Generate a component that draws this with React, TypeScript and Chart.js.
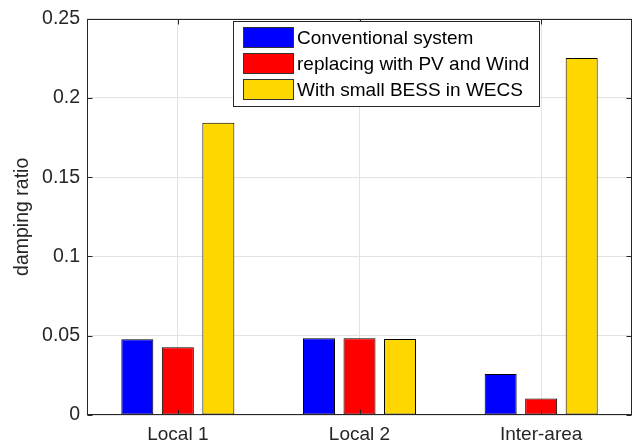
import React, { useEffect, useRef } from "react";
import { Chart, registerables } from "chart.js";

Chart.register(...registerables);

const categories = ["Local 1", "Local 2", "Inter-area"];
const seriesNames = ["Conventional system", "replacing with PV and Wind", "With small BESS in WECS"];
const conventional = [0.0478, 0.0484, 0.0259];
const pvWind = [0.0428, 0.0484, 0.0104];
const smallBess = [0.1844, 0.048, 0.2252];
const yTickLabels = ["0", "0.05", "0.1", "0.15", "0.2", "0.25"];
const seriesColors = ["#0000FF", "#FF0000", "#FFD700"];

const FONT = "'Liberation Sans', Arial, Helvetica, sans-serif";
const TEXT = "#262626";

const framePlugin = {
  id: "frame",
  afterDatasetsDraw(chart: any) {
    const { ctx, chartArea } = chart;
    const l = Math.round(chartArea.left) + 0.5;
    const r = Math.round(chartArea.right) - 0.5;
    const t = Math.round(chartArea.top) + 0.5;
    const b = Math.round(chartArea.bottom) - 0.5;
    ctx.save();
    ctx.strokeStyle = TEXT;
    ctx.lineWidth = 1;
    ctx.strokeRect(l, t, r - l, b - t);
    const tl = 5;
    const ys = chart.scales.y;
    ctx.beginPath();
    ys.ticks.forEach((tk: any) => {
      const y = Math.round(ys.getPixelForValue(tk.value)) + 0.5;
      ctx.moveTo(l, y);
      ctx.lineTo(l + tl, y);
      ctx.moveTo(r, y);
      ctx.lineTo(r - tl, y);
    });
    const xs = chart.scales.x;
    categories.forEach((_, i) => {
      const x = Math.round(xs.getPixelForValue(i)) + 0.5;
      ctx.moveTo(x, b);
      ctx.lineTo(x, b - tl);
      ctx.moveTo(x, t);
      ctx.lineTo(x, t + tl);
    });
    ctx.stroke();
    ctx.restore();
  },
};

const legendPlugin = {
  id: "boxLegend",
  afterDraw(chart: any) {
    const { ctx } = chart;
    const x0 = 233.5, y0 = 21.5, w = 306, h = 85;
    ctx.save();
    ctx.fillStyle = "#ffffff";
    ctx.fillRect(x0, y0, w, h);
    ctx.strokeStyle = TEXT;
    ctx.lineWidth = 1;
    ctx.strokeRect(x0, y0, w, h);
    ctx.font = `19px ${FONT}`;
    ctx.textBaseline = "middle";
    ctx.textAlign = "left";
    chart.data.datasets.forEach((ds: any, i: number) => {
      const cy = 37.5 + i * 26;
      ctx.fillStyle = ds.backgroundColor;
      ctx.fillRect(243.5, cy - 10, 50, 20);
      ctx.strokeStyle = "#333333";
      ctx.strokeRect(243.5, cy - 10, 50, 20);
      ctx.fillStyle = "#000000";
      ctx.fillText(ds.label, 297, cy + 1);
    });
    ctx.restore();
  },
};

export default function App() {
  const ref = useRef<HTMLCanvasElement>(null);
  useEffect(() => {
    document.body.style.margin = "0";
    const values = [conventional, pvWind, smallBess];
    const chart = new Chart(ref.current!, {
      type: "bar",
      data: {
        labels: categories,
        datasets: seriesNames.map((name, i) => ({
          label: name,
          data: values[i],
          backgroundColor: seriesColors[i],
          borderColor: "#000000",
          borderWidth: 1,
          borderSkipped: false,
          categoryPercentage: 0.669,
          barPercentage: 0.79,
        })),
      },
      options: {
        responsive: false,
        animation: false,
        devicePixelRatio: 1,
        layout: { padding: { top: 15, right: 5, left: 0, bottom: 0 } },
        plugins: { legend: { display: false }, tooltip: { enabled: false } },
        scales: {
          x: {
            grid: { color: "#e3e3e3", drawTicks: false, offset: false },
            border: { display: false },
            ticks: { font: { size: 19, family: FONT }, color: TEXT, padding: 8 },
            afterFit: (s: any) => {
              s.height = 31;
            },
          },
          y: {
            min: 0,
            max: 0.25,
            grid: { color: "#e3e3e3", drawTicks: false },
            border: { display: false },
            ticks: {
              stepSize: 0.05,
              font: { size: 19.5, family: FONT },
              color: TEXT,
              padding: 7,
              callback: (_v: any, idx: number) => yTickLabels[idx],
            },
            title: {
              display: true,
              text: "damping ratio",
              font: { size: 19.5, family: FONT },
              color: TEXT,
              padding: { top: 11, bottom: 0 },
            },
            afterFit: (s: any) => {
              s.width = 87;
            },
          },
        },
      },
      plugins: [framePlugin, legendPlugin],
    });
    return () => chart.destroy();
  }, []);
  return (
    <div style={{ width: 637, height: 446 }}>
      <canvas ref={ref} width={637} height={446} style={{ display: "block" }} />
    </div>
  );
}
